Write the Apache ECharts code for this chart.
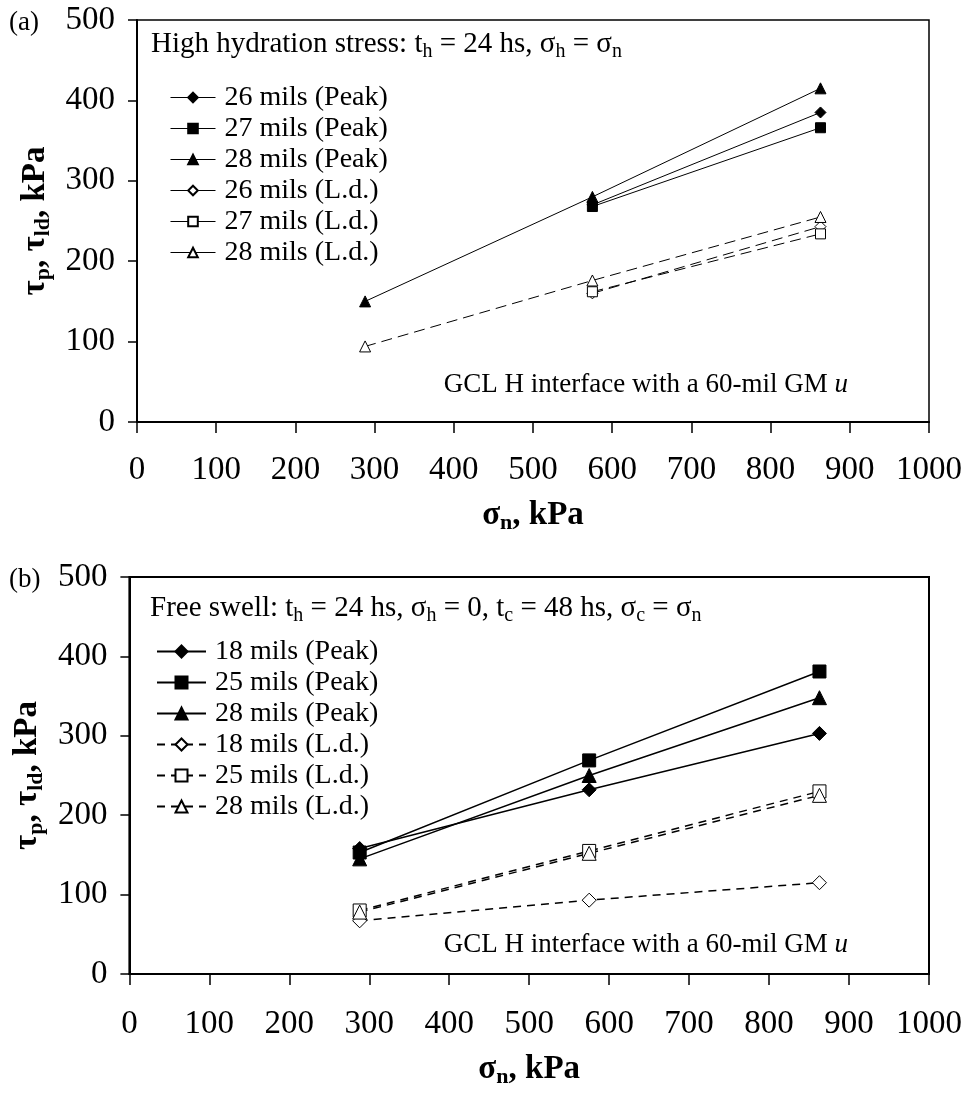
<!DOCTYPE html>
<html>
<head>
<meta charset="utf-8">
<style>
  html, body { margin: 0; padding: 0; background: #fff; }
  #chart { width: 966px; height: 1093px; }
</style>
<script src="https://cdn.jsdelivr.net/npm/echarts@6/dist/echarts.min.js"></script>
</head>
<body>
<div id="chart"></div>
<script>
// normal stress, kPa
const sigmaN = [288, 575, 863]

// (a) high hydration stress
const aPeak26 = [null, 270, 385]
const aPeak27 = [null, 268, 366]
const aPeak28 = [150, 280, 415]
const aLd26 = [null, 160, 243]
const aLd27 = [null, 162, 234]
const aLd28 = [94, 176, 255]

// (b) free swell
const bPeak18 = [158, 232, 303]
const bPeak25 = [153, 269, 381]
const bPeak28 = [145, 250, 348]
const bLd18 = [67, 93, 115]
const bLd25 = [80, 155, 230]
const bLd28 = [78, 152, 225]

const xTicks = [0, 1000, 100]
const yTicks = [0, 500, 100]

const FONT = 'Liberation Serif'

function pts(ys) {
  return sigmaN.map((x, i) => [x, ys[i]]).filter(p => p[1] != null)
}

function mk(name, ys, idx, opt) {
  return {
    name: name,
    type: 'line',
    xAxisIndex: idx,
    yAxisIndex: idx,
    data: pts(ys),
    symbol: opt.symbol,
    symbolSize: opt.size,
    animation: false,
    lineStyle: { color: '#000', width: opt.width, type: opt.dash ? opt.dash : 'solid' },
    itemStyle: { color: opt.open ? '#fff' : '#000', borderColor: '#000', borderWidth: 1 },
    emphasis: { disabled: true }
  }
}

const nameRich = {
  n: { fontFamily: FONT, fontSize: 33, fontWeight: 'bold', color: '#000', lineHeight: 38 },
  s: { fontFamily: FONT, fontSize: 22, fontWeight: 'bold', color: '#000', lineHeight: 22, padding: [17, 0, 0, 0] }
}

function xAxis(idx, gap, margin) {
  return {
    type: 'value', gridIndex: idx,
    min: xTicks[0], max: xTicks[1], interval: xTicks[2],
    name: '{n|σ}{s|n}{n|, kPa}', nameLocation: 'middle', nameGap: gap,
    nameTextStyle: { rich: nameRich },
    axisLine: { show: true, onZero: false, lineStyle: { color: '#000', width: 2 } },
    axisTick: { show: true, inside: false, length: 11, lineStyle: { color: '#000', width: 1.5 } },
    axisLabel: { fontFamily: FONT, fontSize: 33, color: '#000', margin: margin, formatter: v => String(v) },
    splitLine: { show: false }
  }
}

function yAxis(idx, gap) {
  return {
    type: 'value', gridIndex: idx,
    min: yTicks[0], max: yTicks[1], interval: yTicks[2],
    name: '{n|τ}{s|p}{n|, τ}{s|ld}{n|, kPa}', nameLocation: 'middle', nameGap: gap,
    nameTextStyle: { rich: nameRich },
    axisLine: { show: true, lineStyle: { color: '#000', width: 2 } },
    axisTick: { show: true, inside: false, length: 9, lineStyle: { color: '#000', width: 1.5 } },
    axisLabel: { fontFamily: FONT, fontSize: 33, color: '#000', margin: 22, formatter: v => String(v) },
    splitLine: { show: false }
  }
}

const richTitle = {
  n: { fontFamily: FONT, fontSize: 29, fontWeight: 'normal', color: '#000', lineHeight: 33 },
  s: { fontFamily: FONT, fontSize: 20, fontWeight: 'normal', color: '#000', lineHeight: 18, padding: [15, 0, 0, 0] }
}

const richNote = {
  n: { fontFamily: FONT, fontSize: 27, fontWeight: 'normal', color: '#000', lineHeight: 33 },
  i: { fontFamily: FONT, fontSize: 27, fontWeight: 'normal', color: '#000', fontStyle: 'italic', lineHeight: 33 }
}

const namesA = ['26 mils (Peak)', '27 mils (Peak)', '28 mils (Peak)', '26 mils (L.d.)', '27 mils (L.d.)', '28 mils (L.d.)']
const namesB = ['18 mils (Peak)', '25 mils (Peak)', '28 mils (Peak)', '18 mils (L.d.)', '25 mils (L.d.)', '28 mils (L.d.)']

const series = [
  mk('a:' + namesA[0], aPeak26, 0, { symbol: 'diamond', size: 11, width: 1 }),
  mk('a:' + namesA[1], aPeak27, 0, { symbol: 'rect', size: 10, width: 1 }),
  mk('a:' + namesA[2], aPeak28, 0, { symbol: 'triangle', size: 11, width: 1 }),
  mk('a:' + namesA[3], aLd26, 0, { symbol: 'diamond', size: 11, width: 1, open: true, dash: [11, 6] }),
  mk('a:' + namesA[4], aLd27, 0, { symbol: 'rect', size: 10, width: 1, open: true, dash: [11, 6] }),
  mk('a:' + namesA[5], aLd28, 0, { symbol: 'triangle', size: 11, width: 1, open: true, dash: [11, 6] }),
  mk('b:' + namesB[0], bPeak18, 1, { symbol: 'diamond', size: 14, width: 1.5 }),
  mk('b:' + namesB[1], bPeak25, 1, { symbol: 'rect', size: 13, width: 1.5 }),
  mk('b:' + namesB[2], bPeak28, 1, { symbol: 'triangle', size: 14, width: 1.5 }),
  mk('b:' + namesB[3], bLd18, 1, { symbol: 'diamond', size: 14, width: 1.5, open: true, dash: [8, 6] }),
  mk('b:' + namesB[4], bLd25, 1, { symbol: 'rect', size: 13, width: 1.5, open: true, dash: [8, 6] }),
  mk('b:' + namesB[5], bLd28, 1, { symbol: 'triangle', size: 14, width: 1.5, open: true, dash: [8, 6] })
]

const legendText = { fontFamily: FONT, fontSize: 28, color: '#000', lineHeight: 31, padding: [0, 0, 0, 4] }

const chart = echarts.init(document.getElementById('chart'), null, { renderer: 'canvas' })
chart.setOption({
  backgroundColor: '#fff',
  animation: false,
  title: [
    { text: '(a)', left: 4, top: 4, textStyle: { fontFamily: FONT, fontSize: 27, fontWeight: 'normal', color: '#000' } },
    { text: '(b)', left: 4, top: 561, textStyle: { fontFamily: FONT, fontSize: 27, fontWeight: 'normal', color: '#000' } },
    {
      text: '{n|High hydration stress: t}{s|h}{n| = 24 hs, σ}{s|h}{n| = σ}{s|n}',
      left: 151, top: 28, padding: 0, textStyle: { fontWeight: 'normal', rich: richTitle }
    },
    {
      text: '{n|Free swell: t}{s|h}{n| = 24 hs, σ}{s|h}{n| = 0, t}{s|c}{n| = 48 hs, σ}{s|c}{n| = σ}{s|n}',
      left: 150, top: 592, padding: 0, textStyle: { fontWeight: 'normal', rich: richTitle }
    },
    {
      text: '{n|GCL H interface with a 60-mil GM }{i|u}',
      right: 118, top: 368, padding: 0, textStyle: { fontWeight: 'normal', rich: richNote }
    },
    {
      text: '{n|GCL H interface with a 60-mil GM }{i|u}',
      right: 118, top: 928, padding: 0, textStyle: { fontWeight: 'normal', rich: richNote }
    }
  ],
  legend: [
    {
      orient: 'vertical', left: 170, top: 82, padding: 0, itemGap: 0,
      itemWidth: 45, itemHeight: 12, selectedMode: false,
      data: namesA.map(n => ({ name: 'a:' + n, lineStyle: { type: 'solid', width: 1 } })),
      formatter: n => n.slice(2),
      textStyle: legendText
    },
    {
      orient: 'vertical', left: 156, top: 636, padding: 0, itemGap: 0,
      itemWidth: 49, itemHeight: 15, selectedMode: false,
      data: namesB.map(n => 'b:' + n),
      formatter: n => n.slice(2),
      textStyle: legendText
    }
  ],
  grid: [
    { left: 137, top: 20, width: 792, height: 402, show: true, borderColor: '#000', borderWidth: 1.5, backgroundColor: 'transparent' },
    { left: 129, top: 577, width: 800, height: 397, show: true, borderColor: '#000', borderWidth: 2, backgroundColor: 'transparent' }
  ],
  xAxis: [xAxis(0, 74, 32), xAxis(1, 76, 34)],
  yAxis: [yAxis(0, 82), yAxis(1, 76)],
  series: series
})
</script>
</body>
</html>
